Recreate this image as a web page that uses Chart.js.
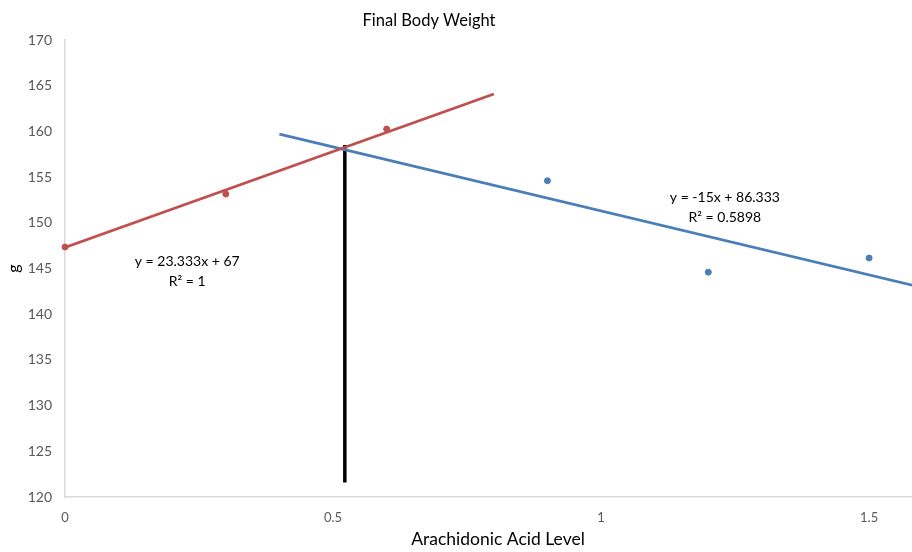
<!DOCTYPE html>
<html>
<head>
<meta charset="utf-8">
<script src="https://cdn.jsdelivr.net/npm/chart.js@4"></script>
<style>
  html, body { margin: 0; padding: 0; background: #fff; }
  #wrap { width: 912px; height: 552px; }
</style>
</head>
<body>
<div id="wrap"><canvas id="bodyWeightChart" width="912" height="552"></canvas></div>
<script>
// values
const redX = [0, 0.3, 0.6];
const redY = [147.35, 153.15, 160.25];
const blueX = [0.9, 1.2, 1.5];
const blueY = [154.6, 144.6, 146.15];

// trendlines and the marker line (end points)
const redTrendX = [0, 0.8];
const redTrendY = [147.3, 164.1];
const blueTrendX = [0.4, 1.6];
const blueTrendY = [159.7, 142.9];
const markX = [0.522, 0.522];
const markY = [121.6, 158.5];

const yTicks = [120, 125, 130, 135, 140, 145, 150, 155, 160, 165, 170];
const xTicks = [0, 0.5, 1, 1.5];

const redEq = ['y = 23.333x + 67', 'R\u00b2 = 1'];
const blueEq = ['y = -15x + 86.333', 'R\u00b2 = 0.5898'];

const toPoints = (xs, ys) => xs.map((x, i) => ({ x: x, y: ys[i] }));

const FONT = 'Lato, "Liberation Sans", sans-serif';

const textPlugin = {
  id: 'textPlugin',
  afterDraw(chart) {
    const c = chart.ctx;
    const xs = chart.scales.x, ys = chart.scales.y;
    c.save();
    c.fillStyle = '#000';
    c.textAlign = 'center';
    c.textBaseline = 'middle';
    c.font = '16.5px ' + FONT;
    c.fillText('Final Body Weight', 429, 21);

    c.font = '17.5px ' + FONT;
    c.fillText('Arachidonic Acid Level', 498, 539);

    c.font = '14px ' + FONT;
    let px = xs.getPixelForValue(0.228), py = ys.getPixelForValue(145.8);
    c.fillText(redEq[0], px, py);
    c.fillText(redEq[1], px, py + 20);
    px = xs.getPixelForValue(1.231); py = ys.getPixelForValue(152.8);
    c.fillText(blueEq[0], px, py);
    c.fillText(blueEq[1], px, py + 20);
    c.restore();
  }
};

const ctx = document.getElementById('bodyWeightChart').getContext('2d');
new Chart(ctx, {
  type: 'scatter',
  data: {
    datasets: [
      {
        label: 'red trend',
        data: toPoints(redTrendX, redTrendY),
        showLine: true,
        borderColor: '#c0504d',
        borderWidth: 2.75,
        pointRadius: 0
      },
      {
        label: 'blue trend',
        data: toPoints(blueTrendX, blueTrendY),
        showLine: true,
        borderColor: '#4a7ebb',
        borderWidth: 2.75,
        pointRadius: 0
      },
      {
        label: 'red',
        data: toPoints(redX, redY),
        backgroundColor: '#c0504d',
        borderColor: '#c0504d',
        pointRadius: 3,
        clip: false
      },
      {
        label: 'blue',
        data: toPoints(blueX, blueY),
        backgroundColor: '#4a7ebb',
        borderColor: '#4a7ebb',
        pointRadius: 3,
        clip: false
      },
      {
        label: 'mark',
        data: toPoints(markX, markY),
        showLine: true,
        borderColor: '#000',
        borderWidth: 3.5,
        pointRadius: 0
      }
    ]
  },
  options: {
    responsive: false,
    animation: false,
    layout: { autoPadding: false, padding: { top: 40, right: 0, left: 0, bottom: 0 } },
    plugins: {
      legend: { display: false },
      tooltip: { enabled: false },
      title: { display: false }
    },
    scales: {
      x: {
        type: 'linear',
        min: 0,
        max: 1.58,
        grid: { display: false, drawTicks: false },
        border: { display: true, color: '#d9d9d9', width: 1.5 },
        afterBuildTicks: s => { s.ticks = xTicks.map(v => ({ value: v })); },
        afterFit: s => { s.height = 55; s.paddingRight = 0; s.paddingLeft = 0; },
        ticks: {
          color: '#595959',
          font: { family: FONT, size: 13 },
          padding: 13,
          maxRotation: 0,
          callback: v => String(v)
        },
        title: { display: false }
      },
      y: {
        min: 120,
        max: 170,
        grid: { display: false, drawTicks: false },
        border: { display: true, color: '#d9d9d9', width: 1.5 },
        afterBuildTicks: s => { s.ticks = yTicks.map(v => ({ value: v })); },
        afterFit: s => { s.width = 65; },
        ticks: {
          color: '#595959',
          font: { family: FONT, size: 14 },
          padding: 13
        },
        title: {
          display: true,
          text: 'g',
          color: '#000',
          font: { family: FONT, size: 16 },
          padding: { top: 4, bottom: 0 }
        }
      }
    }
  },
  plugins: [textPlugin]
});
</script>
</body>
</html>
